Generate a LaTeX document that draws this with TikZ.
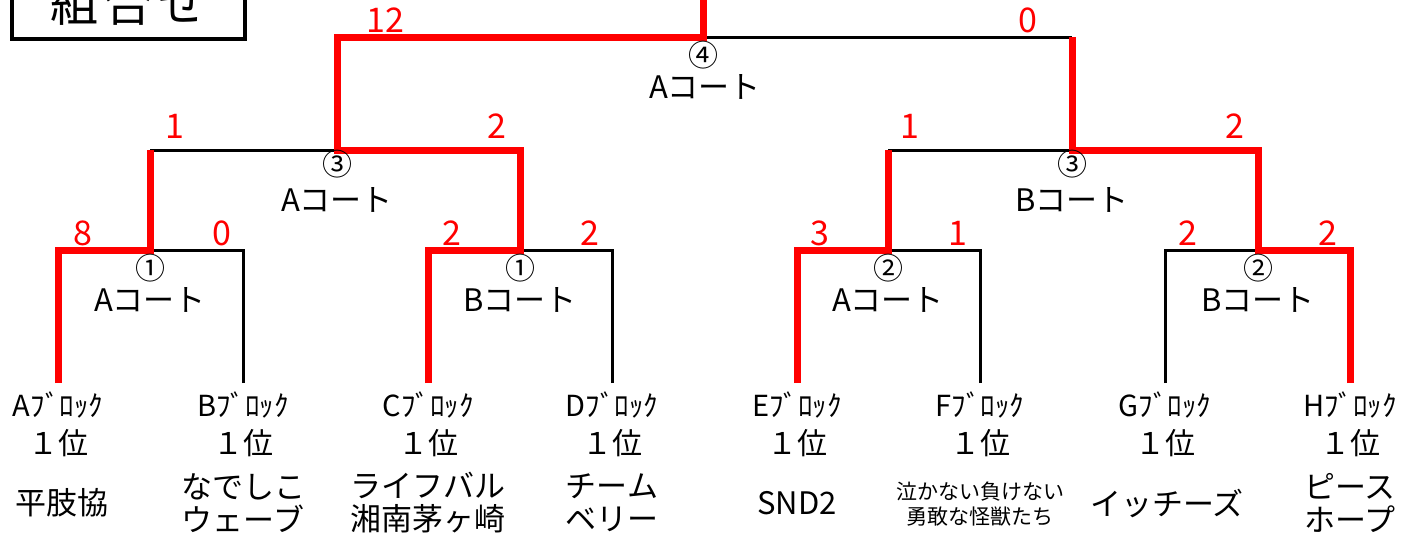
\documentclass[tikz,border=0pt]{standalone}
\usepackage{fontspec}
\setmainfont{Noto Sans CJK JP}
\tikzset{
  win/.style={red, line width=3.5pt},
  lose/.style={black, line width=1.5pt},
  score/.style={red, font=\fontsize{17}{17}\selectfont},
  court/.style={font=\fontsize{15.5}{15.5}\selectfont},
  matchno/.style={font=\fontsize{15}{15}\selectfont, inner sep=0pt},
  blocklabel/.style={font=\fontsize{14.5}{14.5}\selectfont},
  rank/.style={font=\fontsize{15}{15}\selectfont},
  team/.style={font=\fontsize{15.5}{16.5}\selectfont, align=center},
}
\begin{document}
\begin{tikzpicture}[x=0.5pt, y=-0.5pt]
    \useasboundingbox (0,0) rectangle (1401,537);
    % title box
    \draw[line width=2pt] (12,-20) rectangle (245,39);
    \node[font=\fontsize{24}{24}\selectfont] (title) at (128,3) {組\hspace{3pt}合\hspace{3pt}せ};

    % leaves and junctions
    \coordinate (a) at (58,383);
    \coordinate (b) at (243,383);
    \coordinate (c) at (428,383);
    \coordinate (d) at (612,383);
    \coordinate (e) at (797,383);
    \coordinate (f) at (980,383);
    \coordinate (g) at (1165,383);
    \coordinate (h) at (1350,383);
    \coordinate (ab) at (150,250);
    \coordinate (cd) at (520,250);
    \coordinate (ef) at (888,250);
    \coordinate (gh) at (1258,250);
    \coordinate (abcd) at (337,150);
    \coordinate (efgh) at (1072,150);
    \coordinate (final) at (703,37);
    \coordinate (top) at (703,-5);

    % losing lines
    \draw[lose] (b) |- (ab);
    \draw[lose] (d) |- (cd);
    \draw[lose] (f) |- (ef);
    \draw[lose] (g) |- (gh);
    \draw[lose] (ab |- abcd) -- (abcd);
    \draw[lose] (ef |- efgh) -- (efgh);
    \draw[lose] (efgh |- final) -- (final);

    % winning lines
    \draw[win] (a) |- (ab) -- (ab |- abcd);
    \draw[win] (c) |- (cd) |- (abcd) |- (final) -- (top);
    \draw[win] (e) |- (ef) -- (ef |- efgh);
    \draw[win] (h) |- (gh) |- (efgh) -- (efgh |- final);

    % scores
    \node[score] (s1) at (83,233) {8};
    \node[score] (s2) at (222,233) {0};
    \node[score] (s3) at (452,233) {2};
    \node[score] (s4) at (590,233) {2};
    \node[score] (s5) at (820,233) {3};
    \node[score] (s6) at (958,233) {1};
    \node[score] (s7) at (1188,233) {2};
    \node[score] (s8) at (1328,233) {2};
    \node[score] (s9) at (175,126) {1};
    \node[score] (s10) at (497,126) {2};
    \node[score] (s11) at (910,126) {1};
    \node[score] (s12) at (1235,126) {2};
    \node[score] (s13) at (385,20) {12};
    \node[score] (s14) at (1028,20) {0};

    % match numbers and courts
    \node[matchno] (m1) at (150,268) {①};
    \node[matchno] (m2) at (520,268) {①};
    \node[matchno] (m3) at (888,268) {②};
    \node[matchno] (m4) at (1258,268) {②};
    \node[matchno] (m5) at (337,164) {③};
    \node[matchno] (m6) at (1072,164) {③};
    \node[matchno] (m7) at (703,55) {④};
    \node[court] (c1) at (150,300) {Aコート};
    \node[court] (c2) at (520,300) {Bコート};
    \node[court] (c3) at (888,300) {Aコート};
    \node[court] (c4) at (1258,300) {Bコート};
    \node[court] (c5) at (337,200) {Aコート};
    \node[court] (c6) at (1072,200) {Bコート};
    \node[court] (c7) at (705,87) {Aコート};

    % blocks
    \node[blocklabel] (la) at (58,405) {Aﾌﾞﾛｯｸ};
    \node[blocklabel] (lb) at (243,405) {Bﾌﾞﾛｯｸ};
    \node[blocklabel] (lc) at (428,405) {Cﾌﾞﾛｯｸ};
    \node[blocklabel] (ld) at (612,405) {Dﾌﾞﾛｯｸ};
    \node[blocklabel] (le) at (797,405) {Eﾌﾞﾛｯｸ};
    \node[blocklabel] (lf) at (980,405) {Fﾌﾞﾛｯｸ};
    \node[blocklabel] (lg) at (1165,405) {Gﾌﾞﾛｯｸ};
    \node[blocklabel] (lh) at (1350,405) {Hﾌﾞﾛｯｸ};
    \node[rank] (ra) at (58,443) {１位};
    \node[rank] (rb) at (243,443) {１位};
    \node[rank] (rc) at (428,443) {１位};
    \node[rank] (rd) at (612,443) {１位};
    \node[rank] (re) at (797,443) {１位};
    \node[rank] (rf) at (980,443) {１位};
    \node[rank] (rg) at (1165,443) {１位};
    \node[rank] (rh) at (1350,443) {１位};

    % teams
    \node[team] (ta) at (62,503) {平肢協};
    \node[team] (tb) at (243,503) {なでしこ\\ウェーブ};
    \node[team] (tc) at (428,503) {ライフバル\\湘南茅ヶ崎};
    \node[team] (td) at (612,503) {チーム\\ベリー};
    \node[team] (te) at (797,503) {SND2};
    \node[team, font=\fontsize{10.5}{12.5}\selectfont] (tf) at (980,504) {泣かない負けない\\勇敢な怪獣たち};
    \node[team] (tg) at (1167,503) {イッチーズ};
    \node[team] (th) at (1350,503) {ピース\\ホープ};
\end{tikzpicture}
\end{document}
